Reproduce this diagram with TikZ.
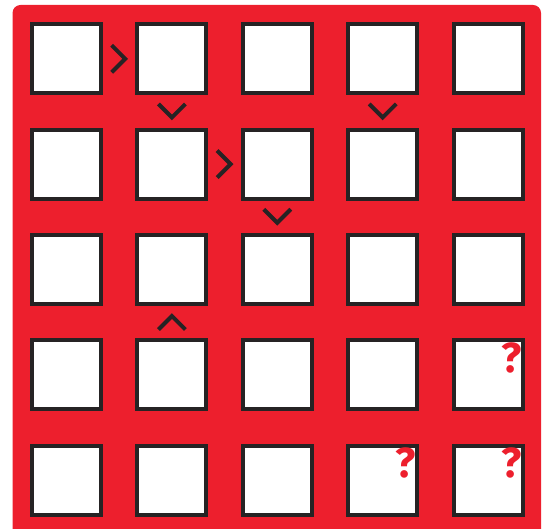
\documentclass[tikz,border=0pt]{standalone}
\usepackage{fontspec}
\newfontfamily\qfont{Fira Sans}
\usepackage{xcolor}
\usetikzlibrary{calc}
\definecolor{boardred}{HTML}{ED1F2D}
\definecolor{inkgray}{HTML}{262324}

\begin{document}
\begin{tikzpicture}[
  x=1pt,y=1pt,
  cell/.style={rectangle,draw=inkgray,line width=4pt,fill=white,minimum size=69pt,inner sep=0pt,outer sep=2pt},
  qmark/.style={text=boardred,font=\qfont\bfseries\fontsize{42}{42}\selectfont,inner sep=0pt,anchor=north east},
  chev/.pic={\draw[inkgray,line width=4pt,miter limit=10] (-7.5,-13.5) -- (6,0) -- (-7.5,13.5);}
]
\useasboundingbox (0,0) rectangle (553,528);
\clip (0,0) rectangle (553,528);
\fill[boardred,rounded corners=8pt] (12.5,-20) rectangle (541,523);

% 5x5 board
\foreach \r in {1,...,5}
  \foreach \c in {1,...,5}
    \node[cell] (sq-\r-\c) at ({66.5+105.4*(\c-1)},{469.2-105.3*(\r-1)}) {};

% inequality signs
\pic at ($(sq-1-1)!.5!(sq-1-2)$) {chev};
\pic[rotate=-90] at ($(sq-1-2)!.5!(sq-2-2)$) {chev};
\pic[rotate=-90] at ($(sq-1-4)!.5!(sq-2-4)$) {chev};
\pic at ($(sq-2-2)!.5!(sq-2-3)$) {chev};
\pic[rotate=-90] at ($(sq-2-3)!.5!(sq-3-3)$) {chev};
\pic[rotate=90] at ($(sq-3-2)!.5!(sq-4-2)$) {chev};

% unknown cells
\node[qmark] (q-4-5) at ([xshift=-3pt,yshift=-4pt]sq-4-5.north east) {?};
\node[qmark] (q-5-4) at ([xshift=-3pt,yshift=-4pt]sq-5-4.north east) {?};
\node[qmark] (q-5-5) at ([xshift=-3pt,yshift=-4pt]sq-5-5.north east) {?};
\end{tikzpicture}
\end{document}
